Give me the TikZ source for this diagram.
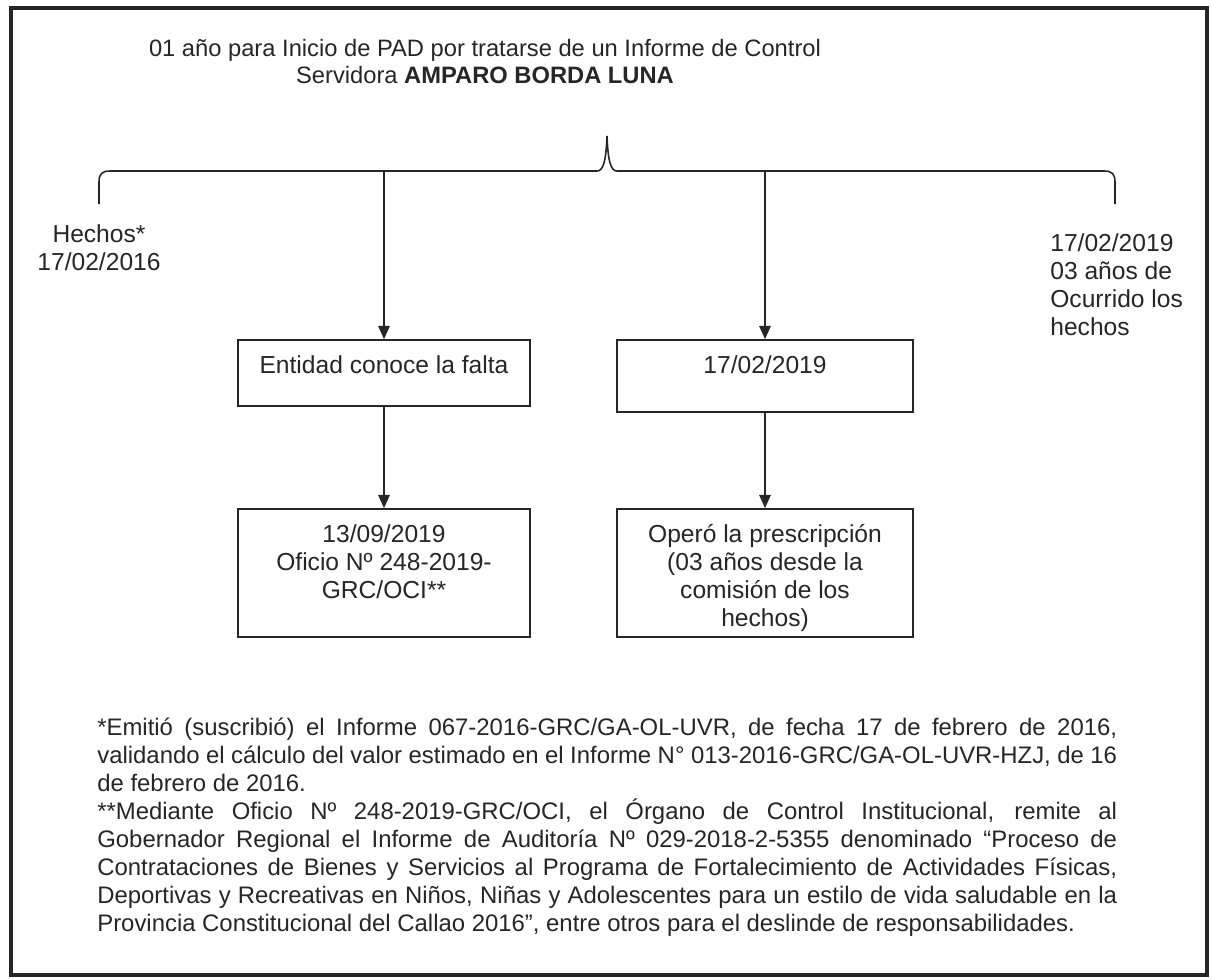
\documentclass[tikz,border=0pt]{standalone}
\usepackage{fontspec}
\setmainfont{Liberation Sans}
\usetikzlibrary{arrows.meta}
\definecolor{ink}{HTML}{262626}

\begin{document}
\begin{tikzpicture}[x=0.02cm,y=-0.02cm,
	every node/.style={font=\fontsize{14}{16}\selectfont, text=ink},
	caja/.style={draw=ink, line width=1pt, minimum height=#1, inner sep=0pt},
	flecha/.style={draw=ink, line width=0.9pt, -{Triangle[width=6.5pt,length=7.5pt]}},
	rotulo/.style={anchor=north, inner sep=0pt, align=center}]
	\useasboundingbox (0,0) rectangle (1211,978);
	\fill[white] (0,0) rectangle (1211,978);
	\draw[ink, line width=2.8pt] (11,8) rectangle (1207,975);
	\node[rotulo, font=\fontsize{13.5}{15.5}\selectfont] (titulo) at (485,37) {\strut 01 año para Inicio de PAD por tratarse de un Informe de Control\\ Servidora \textbf{AMPARO BORDA LUNA}};
	\draw[ink, line width=0.9pt] (99,204) -- (99,182) .. controls (99,174) and (102,171) .. (110,171) -- (597,171)
		.. controls (603,171) and (606,162) .. (607,136) .. controls (608,162) and (611,171) .. (617,171)
		-- (1104,171) .. controls (1112,171) and (1115,174) .. (1115,182) -- (1115,204);
	\coordinate (izq) at (384,171);
	\coordinate (der) at (765,171);
	\node[rotulo] (hechos) at (99,222) {\strut Hechos*\\17/02/2016};
	\node[anchor=north west, inner sep=0pt, align=left] (ocurrido) at (1050,231) {\strut 17/02/2019\\03 años de\\Ocurrido los\\hechos};
	\node[caja=1.32cm, minimum width=5.84cm] (falta) at (384,373) {};
	\node[caja=1.44cm, minimum width=5.92cm] (fecha) at (765,376) {};
	\node[caja=2.56cm, minimum width=5.84cm] (oficio) at (384,573) {};
	\node[caja=2.56cm, minimum width=5.92cm] (prescr) at (765,573) {};
	\node[rotulo, yshift=-0.28cm] (tfalta) at (falta.north) {\strut Entidad conoce la falta};
	\node[rotulo, yshift=-0.28cm] (tfecha) at (fecha.north) {\strut 17/02/2019};
	\node[rotulo, yshift=-0.28cm] (toficio) at (oficio.north) {\strut 13/09/2019\\Oficio Nº 248-2019-\\GRC/OCI**};
	\node[rotulo, yshift=-0.28cm] (tprescr) at (prescr.north) {\strut Operó la prescripción\\(03 años desde la\\comisión de los\\hechos)};
	\draw[flecha] (izq) -- (falta);
	\draw[flecha] (der) -- (fecha);
	\draw[flecha] (falta) -- (oficio);
	\draw[flecha] (fecha) -- (prescr);
	\node[anchor=north west, inner sep=0pt, text width=20.4cm, align=justify, font=\fontsize{13.6}{16}\selectfont] (nota) at (97,715) {\strut *Emitió (suscribió) el Informe 067-2016-GRC/GA-OL-UVR, de fecha 17 de febrero de 2016, \linebreak validando el cálculo del valor estimado en el Informe N° 013-2016-GRC/GA-OL-UVR-HZJ, de 16 \linebreak de febrero de 2016.\\{}**Mediante Oficio Nº 248-2019-GRC/OCI, el Órgano de Control Institucional, remite al \linebreak Gobernador Regional el Informe de Auditoría Nº 029-2018-2-5355 denominado “Proceso de \linebreak Contrataciones de Bienes y Servicios al Programa de Fortalecimiento de Actividades Físicas, \linebreak Deportivas y Recreativas en Niños, Niñas y Adolescentes para un estilo de vida saludable en la \linebreak Provincia Constitucional del Callao 2016”, entre otros para el deslinde de responsabilidades.};
\end{tikzpicture}
\end{document}
